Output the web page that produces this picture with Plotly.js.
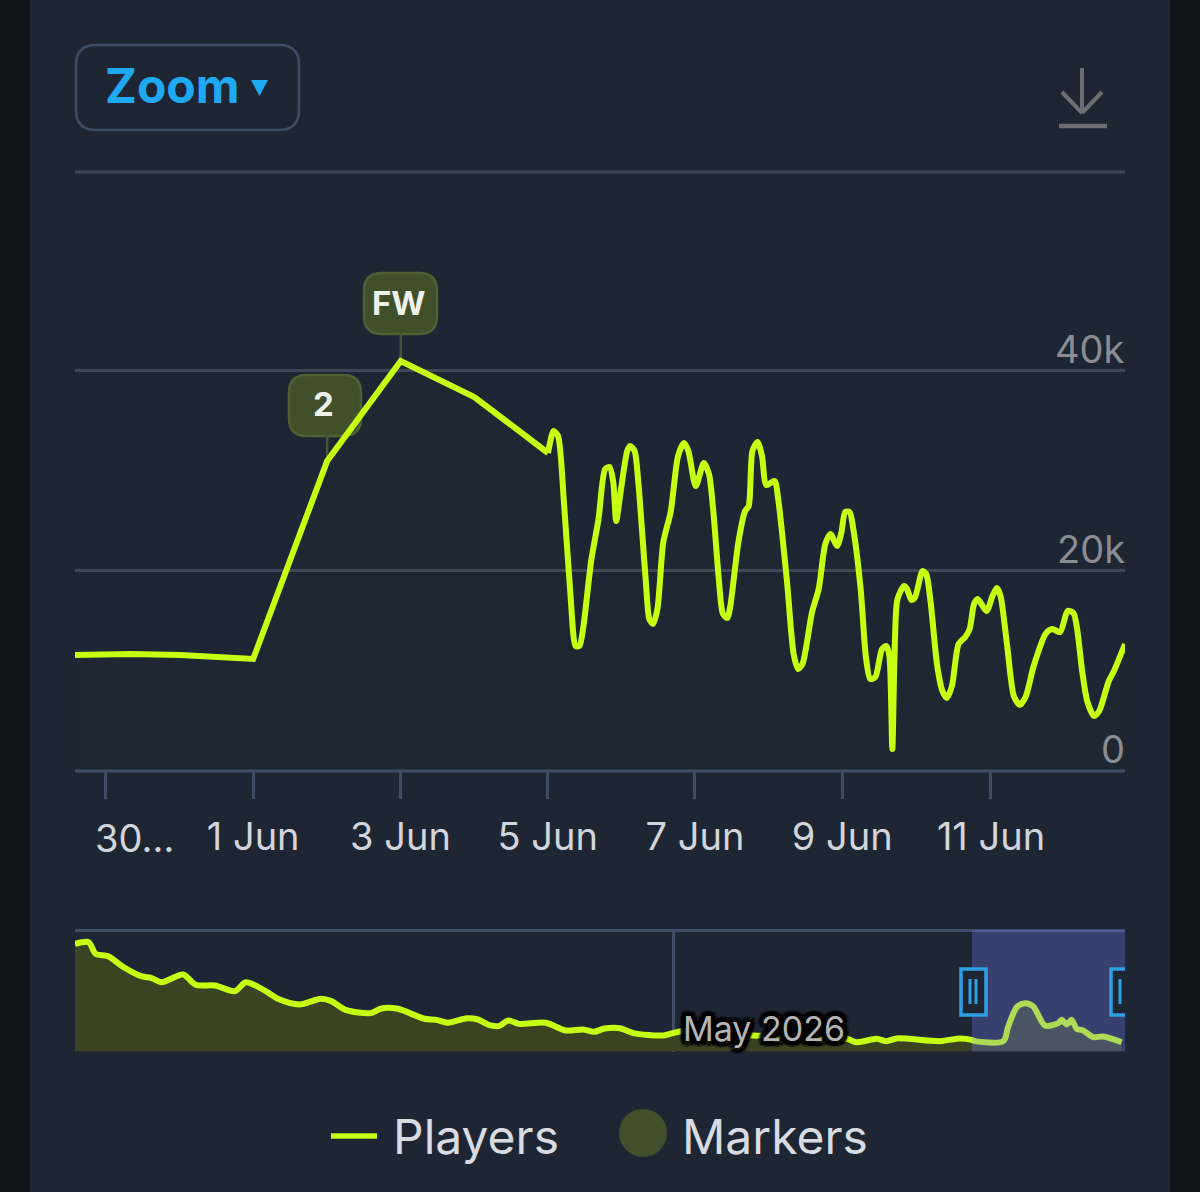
<!DOCTYPE html>
<html><head><meta charset="utf-8">
<script src="https://cdn.plot.ly/plotly-3.0.1.min.js"></script>
<style>html,body{margin:0;padding:0;background:#121417;overflow:hidden}</style>
</head><body><div id="chart" style="width:1200px;height:1192px"></div>
<script>
// Days are counted in June 2026 (1 = 1 Jun, 0 = 31 May, negative = earlier)
const playerDays = [-1.42,-0.67,0.01,1,2.005,3.004,4.003,5.004,5.08,5.14,5.22,5.31,5.38,5.43,5.48,5.59,5.69,5.78,5.84,5.89,5.93,5.99,6.08,6.12,6.18,6.23,6.33,6.38,6.43,6.49,6.57,6.67,6.77,6.85,6.91,7.01,7.12,7.19,7.25,7.32,7.38,7.44,7.48,7.59,7.68,7.73,7.78,7.85,7.91,7.97,8.08,8.13,8.25,8.34,8.40,8.46,8.59,8.68,8.77,8.84,8.93,8.99,9.04,9.10,9.15,9.25,9.32,9.38,9.45,9.54,9.60,9.64,9.68,9.71,9.75,9.84,9.88,9.94,9.99,10.09,10.14,10.20,10.29,10.36,10.42,10.49,10.58,10.67,10.73,10.79,10.84,10.96,11.04,11.10,11.15,11.24,11.33,11.41,11.49,11.60,11.76,11.85,11.96,12.06,12.14,12.19,12.26,12.33,12.42,12.49,12.62,12.69,12.84];
const playerValues = [11500,11600,11500,11100,30900,40900,37300,31700,33900,33400,26800,17400,12400,12400,14100,20900,25100,30100,30300,28800,24900,27800,31900,32400,31900,28800,19100,15100,14600,16100,22800,25800,31400,32700,31900,28400,30700,29600,25800,19400,15600,15200,16400,22800,25900,26400,31900,32800,31400,28500,28900,27100,18800,11600,10100,10600,15800,18100,22600,23600,22400,23800,25800,25800,24100,18100,11400,9100,9300,12100,12400,11400,2100,11400,17100,18400,18100,17000,17300,19900,19600,16800,10400,7900,7200,8400,12600,13300,14100,16600,17100,15900,17400,18200,17400,12400,7400,6500,7300,10400,13600,14100,13800,15900,15700,14100,9800,6800,5400,5900,8900,9900,12600];

const overviewDays = [-85.02,-83.75,-83.09,-81.92,-80.59,-78.77,-77.93,-76.93,-74.95,-73.77,-71.97,-70.11,-69.11,-67.44,-66.11,-64.11,-62.12,-61.12,-59.79,-57.46,-56.46,-54.96,-52.46,-51.30,-50.30,-48.48,-47.47,-46.47,-45.47,-44.64,-43.64,-41.15,-39.31,-37.65,-36.65,-35.66,-34.23,-32.99,-30.19,-28.47,-21.83,-13.10,-12.17,-10.30,-9.37,-8.44,-4.40,-2.54,-1.45,-1.14,1.50,1.94,2.75,3.52,4.29,5.38,6.62,6.94,7.41,7.87,8.34,8.95,9.88,10.82,12.53];
const overviewValues = [91500,92900,83000,81000,72300,63800,62600,58900,65500,56700,56100,51300,58900,52400,44800,40000,44800,42800,35400,32600,36600,36300,27800,26900,24400,28300,27200,22700,21800,26400,23500,24400,17900,18700,16700,19600,19800,15600,13600,17300,13600,10800,7900,10800,8800,11100,8800,11100,9900,8800,8800,20700,37700,41100,38300,22100,24100,26900,23000,26900,19300,17900,12200,12800,7900];

const xTickDays = [-1,1,3,5,7,9,11.02];
const xTickLabels = ['','1 Jun','3 Jun','5 Jun','7 Jun','9 Jun','11 Jun'];
const clippedTickLabel = '30…';
const yGridValues = [0,20000,40000];
const yTopRule = 60000;
const yLabelValues = [0,20000,40000];
const yLabelTexts = ['0','20k','40k'];
const markerDays = [2.005,3.004];
const markerValues = [30900,40900];
const markerLabels = ['2','FW'];
const monthTickDay = [-29.2];
const monthTickLabel = 'May 2026';
const viewRange = [-1.42,12.84];
const overviewRange = [-85.02,12.84];
const legendLabels = ['Players','Markers'];
const zoomLabel = 'Zoom';
const straightPoints = 8; // the sparse daily samples before 5 Jun are joined straight

const W=1200,H=1192;
const fx=x=>x/W, fy=y=>1-y/H;
const LIME='#c6ff12', GRID='#3f4757', AXIS='#3f4e66', MARK='#414f2a', MARKB='#4f6133';
const FONT='Inter, "Noto Sans", sans-serif';

function rrect(x0,y0,x1,y1,r){
  const X=fx,Y=fy;
  return `M ${X(x0+r)} ${Y(y0)} L ${X(x1-r)} ${Y(y0)} Q ${X(x1)} ${Y(y0)} ${X(x1)} ${Y(y0+r)} L ${X(x1)} ${Y(y1-r)} Q ${X(x1)} ${Y(y1)} ${X(x1-r)} ${Y(y1)} L ${X(x0+r)} ${Y(y1)} Q ${X(x0)} ${Y(y1)} ${X(x0)} ${Y(y1-r)} L ${X(x0)} ${Y(y0+r)} Q ${X(x0)} ${Y(y0)} ${X(x0+r)} ${Y(y0)} Z`;
}
const pline=(x0,y0,x1,y1,color,width,layer)=>({type:'line',xref:'paper',yref:'paper',x0:fx(x0),y0:fy(y0),x1:fx(x1),y1:fy(y1),line:{color,width},layer:layer||'above'});
const prect=(x0,y0,x1,y1,fill,lc,lw,layer)=>({type:'rect',xref:'paper',yref:'paper',x0:fx(x0),y0:fy(y0),x1:fx(x1),y1:fy(y1),fillcolor:fill,line:{color:lc||fill,width:lw||0},layer:layer||'above'});
const ppath=(d,fill,lc,lw,layer)=>({type:'path',xref:'paper',yref:'paper',path:d,fillcolor:fill,line:{color:lc,width:lw},layer:layer||'above'});
const note=(text,x,y,size,color,weight,anchor,extra)=>Object.assign({xref:'paper',yref:'paper',x:fx(x),y:fy(y),text,showarrow:false,xanchor:anchor||'center',yanchor:'middle',
  font:{family:FONT,size,color,weight:weight||400},borderpad:0,bgcolor:'rgba(0,0,0,0)'},extra||{});

const shapes=[
  prect(30,0,1170,H,'#1e2633',null,0,'below'),
  pline(75,172,1125,172,GRID,3,'below'),
  // zoom button
  ppath(rrect(76,45,299,130,20),'rgba(0,0,0,0)','#3e4d65',2.5),
  ppath(`M ${fx(251)} ${fy(80)} L ${fx(268)} ${fy(80)} L ${fx(259.5)} ${fy(96)} Z`,'#1fa9f2','#1fa9f2',0),
  // download icon
  pline(1082,68,1082,112,'#6c6e72',4),
  pline(1062,92,1082,113,'#6c6e72',4),
  pline(1102,92,1082,113,'#6c6e72',4),
  pline(1059,126,1107,126,'#6c6e72',4.5),
  // main bottom axis
  pline(75,771,1125,771,AXIS,3),
  // overview top rule
  pline(75,930.5,1125,930.5,AXIS,3),
  // overview selection
  {type:'rect',xref:'x2',yref:'paper',x0:viewRange[0],x1:viewRange[1],y0:fy(1051.5),y1:fy(930),fillcolor:'rgba(116,127,255,0.29)',line:{width:0},layer:'above'},
  // handles
  prect(961,969,986,1015,'#1e2633','#2f9fe3',3.5),
  pline(970,979,970,1004,'#2f9fe3',3),
  pline(976,979,976,1004,'#2f9fe3',3),
  prect(1111,969,1129,1015,'#1e2633','#2f9fe3',3.5),
  pline(1120,979,1120,1004,'#2f9fe3',3),
  // cover the handle beyond the plot edge
  prect(1125,960,1170,1020,'#1e2633',null,0),
  // legend swatches
  pline(331,1136,377,1136,LIME,5.5),
  {type:'circle',xref:'paper',yref:'paper',x0:fx(619),x1:fx(667),y0:fy(1157),y1:fy(1109),fillcolor:MARK,line:{width:0},layer:'above'},
];
// marker boxes and their stems
const boxes=[[289,375,361,436],[364,273,437,334]];
markerDays.forEach((d,i)=>{
  const b=boxes[i];
  shapes.push({type:'line',xref:'x',yref:'y',x0:d,x1:d,y0:markerValues[i],y1:markerValues[i]+(771-markerValues[i]/100-b[3])*100,line:{color:'#46543a',width:2.5},layer:'below'});
  shapes.push(ppath(rrect(b[0],b[1],b[2],b[3],18),MARK,MARKB,2.5,'below'));
});

const annotations=[
  note(zoomLabel,172.5,86,48,'#1fa9f2',700),
  note(clippedTickLabel,134,837.5,38,'#d2d6dc',400),
  note(monthTickLabel,764,1028,34,'#b4b4b4',400,'center',{font:{family:FONT,size:34,color:'#b4b4b4',
    shadow:'-4px -4px 2px #000, 4px -4px 2px #000, -4px 4px 2px #000, 4px 4px 2px #000, 0 5px 2px #000, 0 -5px 2px #000, 5px 0 2px #000, -5px 0 2px #000'}}),
  note(legendLabels[0],392,1136,48,'#d8dbe1',400,'left'),
  note(legendLabels[1],681,1136,48,'#d8dbe1',400,'left'),
];
markerLabels.forEach((t,i)=>{
  const b=boxes[i];
  annotations.push(note(t,(b[0]+b[2])/2-1.5,(b[1]+b[3])/2-1,33,'#eef0ea',700));
});
yLabelValues.forEach((v,i)=>{
  annotations.push({xref:'paper',yref:'y',x:fx(1127),y:v,text:yLabelTexts[i],showarrow:false,xanchor:'right',yanchor:'bottom',yshift:-4,
    font:{family:FONT,size:38,color:'#8a8d92'}});
});

const traces=[
  {x:playerDays.slice(0,straightPoints),y:playerValues.slice(0,straightPoints),type:'scatter',mode:'lines',xaxis:'x',yaxis:'y',
   line:{color:LIME,width:6,shape:'linear'},fill:'tozeroy',fillcolor:'rgba(198,255,18,0.012)',hoverinfo:'skip'},
  {x:playerDays.slice(straightPoints-1),y:playerValues.slice(straightPoints-1),type:'scatter',mode:'lines',xaxis:'x',yaxis:'y',
   line:{color:LIME,width:6,shape:'spline',smoothing:0.7},fill:'tozeroy',fillcolor:'rgba(198,255,18,0.012)',hoverinfo:'skip'},
  {x:overviewDays,y:overviewValues,type:'scatter',mode:'lines',xaxis:'x2',yaxis:'y2',
   line:{color:LIME,width:6,shape:'spline',smoothing:0.8},fill:'tozeroy',fillcolor:'#3a4322',hoverinfo:'skip'},
];

const layout={
  width:W,height:H,margin:{l:0,r:0,t:0,b:0},paper_bgcolor:'#121417',plot_bgcolor:'rgba(0,0,0,0)',showlegend:false,
  font:{family:FONT},
  xaxis:{domain:[fx(75),fx(1125)],anchor:'y',range:viewRange,type:'linear',tickmode:'array',tickvals:xTickDays,ticktext:xTickLabels,
    ticks:'outside',ticklen:28,tickwidth:3,tickcolor:AXIS,showgrid:false,zeroline:false,showline:false,
    tickfont:{family:FONT,size:38,color:'#d2d6dc'},ticklabelstandoff:5,fixedrange:true},
  yaxis:{domain:[fy(770),fy(170)],anchor:'x',range:[0,60000],tickmode:'array',tickvals:yGridValues,ticktext:['','',''],
    showgrid:true,gridcolor:GRID,gridwidth:3,zeroline:false,showline:false,ticks:'',fixedrange:true},
  xaxis2:{domain:[fx(75),fx(1125)],anchor:'y2',range:overviewRange,tickmode:'array',tickvals:monthTickDay,ticktext:[''],
    showgrid:true,gridcolor:AXIS,gridwidth:3,zeroline:false,showline:false,ticks:'',fixedrange:true},
  yaxis2:{domain:[fy(1051.5),fy(930)],anchor:'x2',range:[0,103275],showticklabels:false,showgrid:false,zeroline:false,showline:false,ticks:'',fixedrange:true},
  shapes,annotations
};
Plotly.newPlot('chart',traces,layout,{displayModeBar:false,staticPlot:true});
</script></body></html>
